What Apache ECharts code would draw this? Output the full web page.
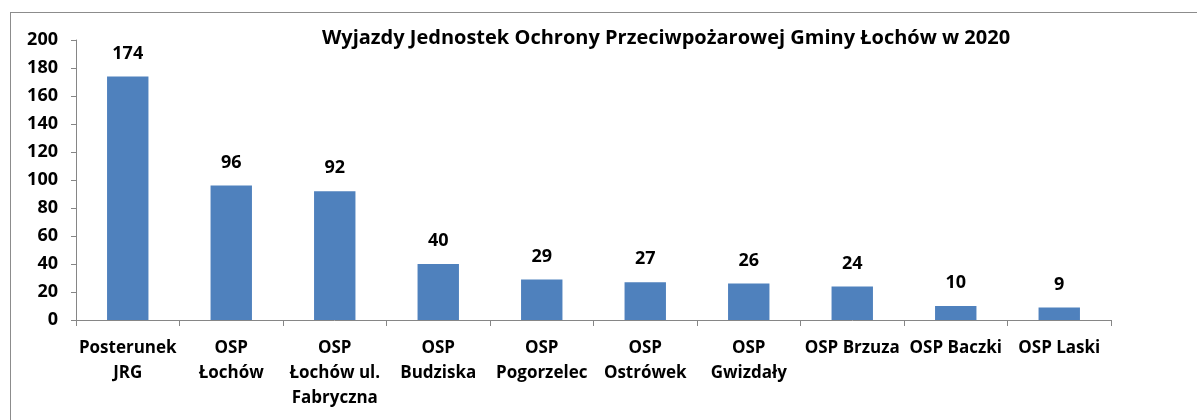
<!DOCTYPE html>
<html>
<head>
<meta charset="utf-8">
<script src="https://cdn.jsdelivr.net/npm/echarts@6/dist/echarts.min.js"></script>
<style>
  html, body { margin: 0; padding: 0; background: #fff; }
  #frame { position: absolute; left: 10px; top: 12px; width: 1300px; height: 500px; border: 1px solid #8c8c8c; }
  #chart { position: absolute; left: 0; top: 0; width: 1197px; height: 420px; }
</style>
</head>
<body>
<div id="frame"></div>
<div id="chart"></div>
<script>
// units (wrapped the same way as in the picture)
const units = [
  "Posterunek\nJRG",
  "OSP\nŁochów",
  "OSP\nŁochów ul.\nFabryczna",
  "OSP\nBudziska",
  "OSP\nPogorzelec",
  "OSP\nOstrówek",
  "OSP\nGwizdały",
  "OSP Brzuza",
  "OSP Baczki",
  "OSP Laski"
];
const trips = [174, 96, 92, 40, 29, 27, 26, 24, 10, 9];
const yTicks = { min: 0, max: 200, step: 20 };

const font = "'Open Sans', sans-serif";
const chart = echarts.init(document.getElementById("chart"), null, { renderer: "canvas" });

chart.setOption({
  animation: false,
  title: {
    text: "Wyjazdy Jednostek Ochrony Przeciwpożarowej Gminy Łochów w 2020",
    left: 661,
    top: 23,
    textAlign: "center",
    textStyle: { fontFamily: font, fontWeight: "bold", fontSize: 20, color: "#000" }
  },
  grid: { left: 76, right: 86, top: 40, bottom: 100 },
  xAxis: {
    type: "category",
    data: units,
    axisLine: { lineStyle: { color: "#868686", width: 1 } },
    axisTick: { show: true, length: 6, lineStyle: { color: "#868686" } },
    axisLabel: {
      interval: 0,
      margin: 16,
      color: "#000",
      fontFamily: font,
      fontWeight: "bold",
      fontSize: 17,
      lineHeight: 25
    }
  },
  yAxis: {
    type: "value",
    min: yTicks.min,
    max: yTicks.max,
    interval: yTicks.step,
    splitLine: { show: false },
    axisLine: { show: true, lineStyle: { color: "#868686", width: 1 } },
    axisTick: { show: true, length: 5, lineStyle: { color: "#868686" } },
    axisLabel: {
      margin: 18,
      color: "#000",
      fontFamily: font,
      fontWeight: "bold",
      fontSize: 18
    }
  },
  series: [{
    type: "bar",
    data: trips,
    barWidth: "40%",
    itemStyle: { color: "#4f81bd" },
    label: {
      show: true,
      position: "top",
      distance: 14,
      color: "#000",
      fontFamily: font,
      fontWeight: "bold",
      fontSize: 18
    }
  }]
});
</script>
</body>
</html>
